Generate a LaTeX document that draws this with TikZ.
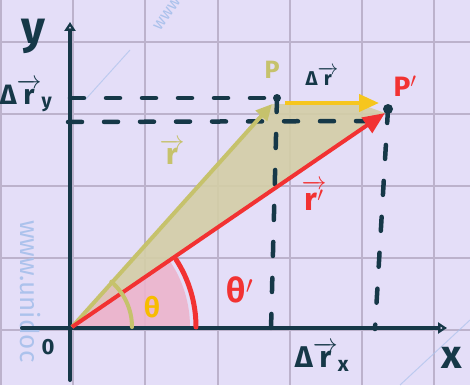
\documentclass[tikz,border=0pt]{standalone}
\usepackage{fontspec}
\usepackage{amsmath}
\setmainfont{Fira Sans}
\usetikzlibrary{arrows.meta}
\definecolor{bg}{RGB}{228,222,248}
\definecolor{gridc}{RGB}{188,178,204}
\definecolor{navy}{RGB}{22,56,72}
\definecolor{redc}{RGB}{242,50,50}
\definecolor{olive}{RGB}{198,194,108}
\definecolor{olivefill}{RGB}{212,206,166}
\definecolor{gold}{RGB}{246,198,30}
\definecolor{pinkf}{RGB}{236,180,204}
\definecolor{thetac}{RGB}{247,188,0}
\definecolor{wm}{RGB}{172,194,236}
\tikzset{
  gridline/.style={gridc, line width=1.5pt},
  axisline/.style={navy, line width=4pt, line cap=round, -{Triangle[open,length=9pt,width=11pt,line width=3pt]}},
  dashline/.style={navy, line width=4.5pt, line cap=round, dash pattern=on 14pt off 22pt},
  lbl/.style={font=\bfseries, inner sep=0pt},
  wmtext/.style={wm, font=\fontsize{26}{26}\selectfont, inner sep=0pt}
}
\begin{document}
\begin{tikzpicture}[x=1pt,y=-1pt]
\useasboundingbox (0,0) rectangle (470,385);
\fill[bg] (0,0) rectangle (470,385);
% grid
\foreach \gx in {1,73,145,218,290,362,434} \draw[gridline] (\gx,0) -- (\gx,385);
\foreach \gy in {42,114,186,258,330} \draw[gridline] (0,\gy) -- (470,\gy);
% watermark
\node[wmtext, rotate=-90, anchor=west] (wm1) at (30,220) {www.unidoc};
\node[wmtext, rotate=55, font=\fontsize{17}{17}\selectfont] (wm2) at (167,14) {www};
\draw[wm, line width=1pt, opacity=0.7] (85,100) -- (130,50);
\draw[wm, line width=1pt, opacity=0.7] (400,385) -- (470,320);
% key points
\coordinate (O) at (72,327);
\coordinate (P) at (272,104);
\coordinate (Pp) at (385,113);
\coordinate (Q) at (360,104);
\coordinate (Pdot) at (277,98);
\coordinate (Ppdot) at (388,109);
\coordinate (Ay1) at (70,98);
\coordinate (Ay2) at (68,122);
\coordinate (Ppl) at (372,121);
\coordinate (Px) at (271,329);
\coordinate (Ppx) at (375,329);
\coordinate (Ytop) at (70,22);
\coordinate (Ybot) at (70,380);
\coordinate (Xl) at (22,328);
\coordinate (Xr) at (447,328);
\coordinate (G1) at (285,103);
\coordinate (G2) at (379,103);
% fills
\fill[olivefill, fill opacity=0.9] (O) -- (P) -- (Q) -- (Pp) -- cycle;
\fill[pinkf, fill opacity=0.9] (O) -- ++(118pt,0pt) arc[start angle=0, end angle=34.4, radius=118pt] -- cycle;
\fill[pinkf, fill opacity=0.45] (O) -- ++(60pt,0pt) arc[start angle=0, end angle=48, radius=60pt] -- cycle;
% dashed guides
\draw[dashline] (Ay1) -- (Pdot);
\draw[dashline] (Ay2) -- (Ppl);
\draw[dashline] (Pdot) -- (Px);
\draw[dashline] (Ppdot) -- (Ppx);
% axes
\draw[axisline] (Ybot) -- (Ytop);
\draw[axisline] (Xl) -- (Xr);
% vectors
\draw[olive, line width=4pt, -{Triangle[length=16pt,width=15pt]}] (O) -- (P);
\draw[gold, line width=4pt, -{Triangle[length=20pt,width=17pt]}] (G1) -- (G2);
\draw[redc, line width=4pt, -{Triangle[length=22pt,width=18pt]}] (O) -- (Pp);
% angle arcs
\draw[olive, line width=4pt, line cap=round] (O) ++(60pt,0pt) arc[start angle=0, end angle=49, radius=60pt];
\draw[redc, line width=5pt, line cap=round] (O) ++(124pt,0pt) arc[start angle=0, end angle=33, radius=124pt];
% dots
\fill[navy] (Pdot) circle[radius=4pt];
\fill[navy] (Ppdot) circle[radius=5pt];
% labels
\node[lbl, navy, font=\bfseries\fontsize{46}{46}\selectfont] (ylab) at (33,36) {y};
\node[lbl, navy, font=\bfseries\fontsize{28}{28}\selectfont] (dry) at (26,96) {Δ$\overrightarrow{\text{r}}_{\text{y}}$};
\node[lbl, olive, font=\bfseries\fontsize{25}{25}\selectfont] (Plab) at (272,70) {P};
\node[lbl, navy, font=\bfseries\fontsize{20}{20}\selectfont] (drlab) at (322,76) {Δ$\overrightarrow{\text{r}}$};
\node[lbl, redc, font=\bfseries\fontsize{28}{28}\selectfont] (Pplab) at (405,86) {P$'$};
\node[lbl, olive, font=\bfseries\fontsize{30}{30}\selectfont] (rlab) at (172,152) {$\overrightarrow{\text{r}}$};
\node[lbl, redc, font=\bfseries\fontsize{32}{32}\selectfont] (rplab) at (314,199) {$\overrightarrow{\mathstrut\text{r}'}$};
\node[lbl, thetac, font=\bfseries\fontsize{28}{28}\selectfont] (th) at (152,307) {θ};
\node[lbl, redc, font=\bfseries\fontsize{34}{34}\selectfont] (thp) at (240,290) {θ$'$};
\node[lbl, navy, font=\bfseries\fontsize{22}{22}\selectfont] (olab) at (48,347) {0};
\node[lbl, navy, font=\bfseries\fontsize{30}{30}\selectfont] (drx) at (322,357) {Δ$\overrightarrow{\text{r}}_{\text{x}}$};
\node[lbl, navy, font=\bfseries\fontsize{40}{40}\selectfont] (xlab) at (452,358) {x};
\end{tikzpicture}
\end{document}
